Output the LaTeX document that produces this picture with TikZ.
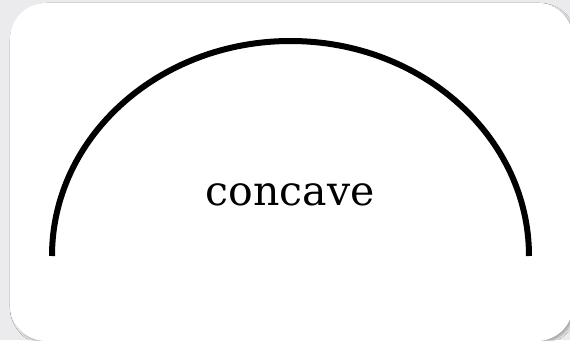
\documentclass[tikz,border=0pt]{standalone}
\usepackage{fontspec}
\setmainfont{DejaVu Serif}
\usetikzlibrary{shadows.blur}
\definecolor{bggray}{HTML}{EBEBED}
\tikzset{
  card/.style={fill=white, rounded corners=36pt, blur shadow={shadow xshift=2pt, shadow yshift=-2pt, shadow blur steps=6, shadow opacity=30}},
  curve/.style={line width=6pt, black},
  label/.style={font=\fontsize{41}{41}\selectfont, text=black, inner sep=0pt}
}
\begin{document}
\begin{tikzpicture}[x=1pt,y=-1pt]
  \useasboundingbox (0,0) rectangle (570,340);
  \fill[bggray] (0,0) rectangle (570,340);
  \path[card] (10,3) rectangle (573,341);
  \coordinate (L) at (52,256);
  \coordinate (R) at (529,256);
  \draw[curve] (L) arc[start angle=180, end angle=0, x radius=238.5pt, y radius=215pt];
  \node[label, anchor=base] (t) at (290,205) {concave};
\end{tikzpicture}
\end{document}
